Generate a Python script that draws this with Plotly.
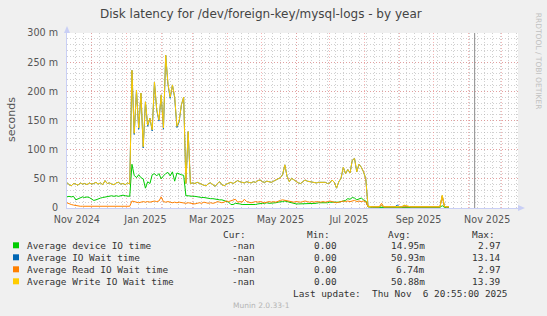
import plotly.graph_objects as go
import pandas as pd

# ---------------- data ----------------
title_text = "Disk latency for /dev/foreign-key/mysql-logs - by year"
y_label = "seconds"
start_date = "2024-11-09"
step = "2D"

# values in milliseconds (axis labels show "m" = milli-seconds)
green_device = [
    19, 20, 19, 20, 14, 16, 18, 19, 18, 19, 18, 15, 13, 14, 16, 17, 18, 19, 20, 20,
    21, 20, 21, 20, 21, 22, 21, 21, 20,
    75, 56, 52, 57, 52, 50, 34, 45, 42, 57, 59, 55, 59, 50, 55, 59, 61, 55, 62, 46,
    60, 58, 57, 56,
    21, 21, 20, 20, 20, 19, 19, 18, 18, 17, 17, 16, 16, 15, 15, 14, 14, 13, 12, 10,
    6, 6, 8, 8,
    7, 6, 6, 5, 6, 5, 6, 6, 7, 8, 8, 8, 9, 8, 8, 9, 9, 10, 10, 11,
    12, 11, 9, 8, 8, 7, 7, 7, 8, 8, 7, 8, 8, 8, 8, 9, 9, 8, 9, 9,
    10, 10, 10, 9, 10, 11, 12, 13, 16, 15, 18, 17, 14, 15, 17, 14, 12,
    2, 1, 1, 1, 1, 1, 1, 1, 1, 1, 1, 1, 1, 1, 1, 1, 1, 1, 1, 1,
    1, 1, 1, 1, 1, 1, 1, 1, 1, 1, 1, 1, 1, 4, 1, 1, 1,
]
blue_io_wait = [
    44, 40, 38, 42, 41, 39, 43, 41, 42, 40, 43, 41, 42, 44, 41, 43, 40, 47, 42, 43,
    41, 40, 43, 44, 41, 42, 40, 43, 41,
    236, 126, 202, 135, 197, 103, 182, 140, 154, 132, 216, 168, 149, 194, 135, 262, 212, 188, 211, 189,
    138, 148, 177, 190, 42, 131,
    42, 43, 42, 44, 42, 41, 39, 38, 42, 43, 40, 37, 42, 45, 40, 38, 41, 43, 44, 42,
    44, 47,
    45, 44, 43, 45, 44, 43, 45, 44, 47, 48, 45, 44, 46, 45, 44, 46, 48, 49, 52, 57,
    74, 54, 45, 51, 48, 45, 43, 42, 45, 48, 46, 45, 44, 44, 43, 44, 44, 45, 44, 42,
    43, 48, 44, 34, 45, 51, 70, 59, 66, 60, 82, 85, 62, 75, 70, 62, 50,
    3, 2, 2, 2, 2, 2, 4, 2, 2, 2, 2, 2, 2, 5, 2, 2, 4, 3, 2, 2,
    2, 2, 2, 2, 2, 2, 2, 2, 2, 2, 2, 2, 2, 21, 3, 2, 2,
]
orange_read_wait = [
    9, 7, 6, 5, 4, 4, 3, 3, 3, 2, 2, 3, 2, 2, 2, 3, 2, 2, 2, 2,
    3, 2, 2, 2, 3, 2, 2, 3, 3,
    12, 11, 10, 9, 10, 11, 10, 11, 10, 11, 12, 11, 12, 19, 11, 10, 11, 10, 9, 10,
    9, 10, 9, 9,
    8, 9, 8, 8, 7, 8, 9, 8, 10, 9, 8, 9, 8, 9, 11, 10, 9, 10, 12, 11,
    12, 14, 15, 10,
    11, 10, 15, 11, 10, 9, 10, 11, 10, 11, 10, 9, 10, 11, 10, 11, 10, 12, 13, 14,
    13, 12, 11, 10, 10, 11, 10, 10, 11, 12, 11, 10, 11, 10, 11, 10, 10, 11, 10, 11,
    12, 11, 10, 9, 10, 11, 12, 11, 12, 11, 12, 13, 11, 12, 11, 12, 11,
    2, 2, 2, 2, 2, 2, 8, 2, 2, 2, 2, 2, 2, 2, 2, 2, 3, 2, 2, 2,
    2, 2, 2, 2, 2, 2, 2, 2, 2, 2, 2, 2, 2, 20, 2, 2, 2,
]
yellow_write_wait = [
    44, 40, 38, 42, 41, 39, 43, 41, 42, 40, 43, 41, 42, 44, 41, 43, 40, 47, 42, 43,
    41, 40, 43, 44, 41, 42, 40, 43, 41,
    236, 128, 202, 137, 197, 105, 182, 142, 154, 134, 216, 170, 151, 194, 137, 262, 214, 190, 211, 191,
    140, 150, 177, 190, 42, 131,
    42, 43, 42, 44, 42, 41, 39, 38, 42, 43, 40, 37, 42, 45, 40, 38, 41, 43, 44, 42,
    44, 47,
    45, 44, 43, 45, 44, 43, 45, 44, 47, 48, 45, 44, 46, 45, 44, 46, 48, 49, 52, 57,
    74, 54, 45, 51, 48, 45, 43, 42, 45, 48, 46, 45, 44, 44, 43, 44, 44, 45, 44, 42,
    43, 48, 44, 34, 45, 51, 70, 59, 66, 60, 82, 85, 62, 75, 70, 62, 50,
    3, 2, 2, 2, 2, 2, 4, 2, 2, 2, 2, 2, 2, 3, 2, 2, 5, 4, 2, 2,
    2, 2, 2, 2, 2, 2, 2, 2, 2, 2, 2, 2, 2, 22, 3, 2, 2,
]

legend_names = ["Average device IO time", "Average IO Wait time",
                "Average Read IO Wait time", "Average Write IO Wait time"]
legend_colors = ["#00CC00", "#0066B3", "#FF8000", "#FFCC00"]
cur_vals = ["-nan", "-nan", "-nan", "-nan"]
min_vals = ["0.00", "0.00", "0.00", "0.00"]
avg_vals = ["14.95m", "50.93m", "6.74m", "50.88m"]
max_vals = ["2.97", "13.14", "2.97", "13.39"]
col_headers = ["Cur:", "Min:", "Avg:", "Max:"]
last_update = "Last update:  Thu Nov  6 20:55:00 2025"
version_text = "Munin 2.0.33-1"
watermark = "RRDTOOL / TOBI OETIKER"

y_ticks = [0, 50, 100, 150, 200, 250, 300]
y_ticktext = ["0", "50 m", "100 m", "150 m", "200 m", "250 m", "300 m"]
x_label_dates = ["2024-11-18", "2025-01-18", "2025-03-18", "2025-05-18",
                 "2025-07-18", "2025-09-18", "2025-11-18"]
x_label_text = ["Nov 2024", "Jan 2025", "Mar 2025", "May 2025",
                "Jul 2025", "Sep 2025", "Nov 2025"]
x_range = ["2024-11-09 05:00", "2025-12-15 10:00"]
now_marker = "2025-11-06 20:55"

# ---------------- layout helpers ----------------
W, H = 547, 316
L, R, T, B = 67, 29, 33, 108
PW, PH = W - L - R, H - T - B


def xp(px):
    return (px - L) / PW


def yp(py):
    return (H - B - py) / PH


dates = pd.date_range(start_date, periods=len(yellow_write_wait), freq=step)
month_starts = pd.date_range("2024-12-01", "2025-12-01", freq="MS")
week_lines = pd.date_range("2024-11-10", "2025-12-14", freq="7D")

fig = go.Figure()
series = [green_device, blue_io_wait, orange_read_wait, yellow_write_wait]
for vals, name, col in zip(series, legend_names, legend_colors):
    fig.add_trace(go.Scatter(x=dates, y=vals, mode="lines", name=name,
                             line=dict(color=col, width=1), hoverinfo="skip"))
# invisible trace so that the month-grid axis is drawn
fig.add_trace(go.Scatter(x=[dates[0]], y=[0], xaxis="x2", mode="lines",
                         line=dict(width=0), showlegend=False, hoverinfo="skip"))

RED = "rgba(240,120,120,0.55)"
GREY = "rgba(170,170,170,0.55)"
AXC = "#C9CFF5"
TICKC = "#555555"
DASH = "1px,2px"

fig.update_layout(
    width=W, height=H,
    margin=dict(l=L, r=R, t=T, b=B, pad=0),
    paper_bgcolor="#F0F0F0", plot_bgcolor="#FFFFFF",
    showlegend=False, hovermode=False,
    font=dict(family="DejaVu Sans", color=TICKC),
    xaxis=dict(
        type="date", range=x_range, tickmode="array",
        tickvals=x_label_dates, ticktext=x_label_text,
        showgrid=False, ticks="", zeroline=False, ticklabelstandoff=2,
        tickfont=dict(size=9.6, color=TICKC, family="DejaVu Sans"),
        showline=True, linecolor=AXC, linewidth=1,
        minor=dict(tickmode="array", tickvals=list(week_lines), showgrid=True,
                   gridcolor=GREY, griddash=DASH, gridwidth=1, ticks=""),
    ),
    xaxis2=dict(
        type="date", range=x_range, overlaying="x", anchor="y", side="bottom",
        tickmode="array", tickvals=list(month_starts), showticklabels=False,
        showgrid=True, gridcolor=RED, griddash=DASH, gridwidth=1, ticks="",
        showline=False, zeroline=False,
    ),
    yaxis=dict(
        range=[0, 300], tickmode="array", tickvals=y_ticks, ticktext=y_ticktext,
        showgrid=True, gridcolor=RED, griddash=DASH, gridwidth=1,
        ticks="", zeroline=False, ticklabelstandoff=6,
        tickfont=dict(size=9.6, color=TICKC, family="DejaVu Sans"),
        showline=True, linecolor=AXC, linewidth=1,
        minor=dict(dtick=10, showgrid=True, gridcolor=GREY, griddash=DASH,
                   gridwidth=1, ticks=""),
    ),
)

# "now" vertical rule
fig.add_shape(type="line", xref="x", yref="paper", x0=now_marker, x1=now_marker,
              y0=0, y1=1, line=dict(color="#8A8A8A", width=1))

# axis arrows
aw = 3
fig.add_shape(type="path", xref="paper", yref="paper",
              path=f"M {xp(L - aw)} {yp(T)} L {xp(L)} {yp(T - 7)} L {xp(L + aw)} {yp(T)} Z",
              fillcolor=AXC, line=dict(width=0))
fig.add_shape(type="path", xref="paper", yref="paper",
              path=f"M {xp(W - R)} {yp(H - B - aw)} L {xp(W - R + 7)} {yp(H - B)} L {xp(W - R)} {yp(H - B + aw)} Z",
              fillcolor=AXC, line=dict(width=0))

ann = []


def txt(text, x, y, size, color="#333333", family="DejaVu Sans", xanchor="left",
        angle=0):
    ann.append(dict(text=text.replace(" ", "\u00a0"), x=xp(x), y=yp(y),
                    xref="paper", yref="paper", showarrow=False,
                    xanchor=xanchor, yanchor="middle", textangle=angle,
                    font=dict(size=size, color=color, family=family)))


txt(title_text, 261.3, 14, 12, color="#444444", xanchor="center")
txt(y_label, 11, 120, 11, color="#555555", xanchor="center", angle=-90)
txt(watermark, 538.7, 61.5, 7.5, color="#C0C0C0", xanchor="center", angle=90)

MONO = "DejaVu Sans Mono"
LS = 9.4
hdr_right = [248.3, 331.7, 413.3, 496.7]
val_right = [256.7, 339.3, 427.3, 503.3]
for h, xr in zip(col_headers, hdr_right):
    txt(h, xr, 234, LS, family=MONO, xanchor="right")
for k in range(4):
    yc = 245.3 + 12 * k
    fig.add_shape(type="rect", xref="paper", yref="paper",
                  x0=xp(13), x1=xp(19), y0=yp(yc - 3), y1=yp(yc + 3),
                  fillcolor=legend_colors[k], line=dict(width=0))
    txt(legend_names[k], 25.3, yc, LS, family=MONO)
    for vals, xr in zip([cur_vals, min_vals, avg_vals, max_vals], val_right):
        txt(vals[k], xr, yc, LS, family=MONO, xanchor="right")
txt(last_update, 509.3, 293.3, LS, family=MONO, xanchor="right")
txt(version_text, 261.3, 305, 7.5, color="#B4B4B4", xanchor="center")

fig.update_layout(annotations=ann)
fig.write_html("out.html")
